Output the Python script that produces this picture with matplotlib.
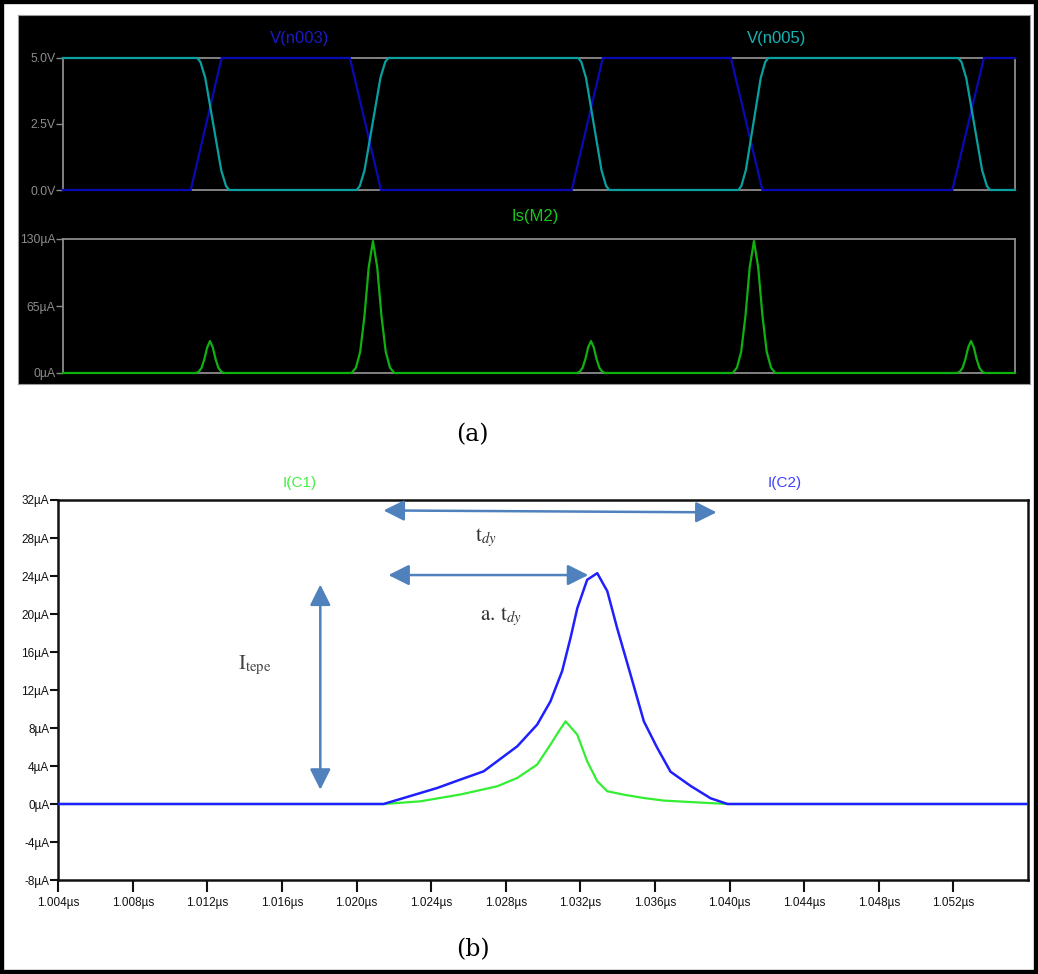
import numpy as np
import matplotlib
matplotlib.use("Agg")
import matplotlib.pyplot as plt
from matplotlib.patches import Rectangle, FancyArrowPatch

# ---------------- panel (a) data (time in ns) ----------------
v003_t = [0, 6.71, 8.33, 15.07, 16.70, 26.72, 28.35, 35.08, 36.73, 46.71, 48.37, 50]
v003_v = [0, 0, 5, 5, 0, 0, 5, 5, 0, 0, 5, 5]

v005_edge_start = [7.05, 15.42, 27.06, 35.47, 47.02]
v005_edge_end = [8.73, 17.09, 28.69, 37.04, 48.69]
v005_levels = [5, 0, 5, 0, 5, 0]
edge_profile_s = [0, 0.1, 0.25, 0.4, 0.5, 0.6, 0.75, 0.9, 1.0]
edge_profile_f = [0, 0.03, 0.15, 0.36, 0.5, 0.64, 0.85, 0.97, 1.0]

ism2_center = [7.72, 16.28, 27.73, 36.29, 47.69]
ism2_height = [31, 128, 31, 128, 31]
ism2_halfwidth = [0.74, 1.12, 0.74, 1.12, 0.74]
pulse_profile_s = [-1, -0.8, -0.6, -0.4, -0.2, 0, 0.2, 0.4, 0.6, 0.8, 1]
pulse_profile_f = [0, 0.04, 0.16, 0.43, 0.8, 1, 0.8, 0.43, 0.16, 0.04, 0]

v_ticks = [0, 2.5, 5]
v_tick_labels = ["0.0V", "2.5V", "5.0V"]
i_ticks = [0, 65, 130]
i_tick_labels = ["0µA", "65µA", "130µA"]

# ---------------- panel (b) data (time in µs, current in µA) ----------------
ic2_t = [1.004, 1.02144, 1.02252, 1.02431, 1.02556, 1.02681, 1.02861, 1.02968, 1.03039,
         1.03102, 1.03147, 1.03183, 1.03236, 1.03290, 1.03344, 1.03397, 1.03469, 1.03540,
         1.03612, 1.03683, 1.03791, 1.03898, 1.03989, 1.056]
ic2_i = [0, 0, 0.63, 1.68, 2.57, 3.44, 6.07, 8.36, 10.8, 14.0, 17.5, 20.6, 23.6, 24.3,
         22.4, 18.5, 13.6, 8.7, 5.9, 3.4, 1.9, 0.6, 0, 0]
ic1_t = [1.004, 1.02144, 1.02341, 1.02556, 1.02753, 1.02861, 1.02968, 1.03039, 1.03084,
         1.03120, 1.03183, 1.03236, 1.03290, 1.03344, 1.03433, 1.03540, 1.03647, 1.03844,
         1.03989, 1.056]
ic1_i = [0, 0, 0.28, 1.0, 1.86, 2.74, 4.15, 6.25, 7.65, 8.7, 7.3, 4.5, 2.4, 1.34, 0.98,
         0.63, 0.36, 0.15, 0, 0]

b_xticks = [1.004, 1.008, 1.012, 1.016, 1.020, 1.024, 1.028, 1.032, 1.036, 1.040, 1.044, 1.048, 1.052]
b_xtick_labels = ["1.004µs", "1.008µs", "1.012µs", "1.016µs", "1.020µs", "1.024µs", "1.028µs",
                  "1.032µs", "1.036µs", "1.040µs", "1.044µs", "1.048µs", "1.052µs"]
b_yticks = [-8, -4, 0, 4, 8, 12, 16, 20, 24, 28, 32]
b_ytick_labels = ["-8µA", "-4µA", "0µA", "4µA", "8µA", "12µA", "16µA", "20µA", "24µA", "28µA", "32µA"]

# annotation anchors (data coords of panel b)
arrow_tdy = ((1.02144, 30.9), (1.03930, 30.7))
arrow_atdy = ((1.02170, 24.1), (1.03242, 24.1))
arrow_itepe = ((1.01805, 23.1), (1.01805, 1.5))

# ---------------- build waveforms ----------------
c_t, c_v = [0.0], [v005_levels[0]]
for k, (ts, te) in enumerate(zip(v005_edge_start, v005_edge_end)):
    a, b = v005_levels[k], v005_levels[k + 1]
    for s, f in zip(edge_profile_s, edge_profile_f):
        c_t.append(ts + s * (te - ts))
        c_v.append(a + (b - a) * f)
c_t.append(50.0); c_v.append(v005_levels[-1])

p_t, p_i = [0.0], [0.0]
for c, h, w in zip(ism2_center, ism2_height, ism2_halfwidth):
    for s, f in zip(pulse_profile_s, pulse_profile_f):
        p_t.append(c + s * w)
        p_i.append(h * f)
p_t.append(50.0); p_i.append(0.0)

W, H = 1038, 974
fig = plt.figure(figsize=(W / 100, H / 100), dpi=100)
fig.patch.set_facecolor("white")
plt.rcParams["mathtext.fontset"] = "stix"

narrow = ["Liberation Sans", "DejaVu Sans"]

def fx(x):
    return x / W

def fy(y):
    return 1 - y / H

# black panel for (a): a background axes
bg = fig.add_axes([fx(18), fy(384), fx(1030) - fx(18), fy(15) - fy(384)], zorder=-5)
bg.set_facecolor("black")
bg.set_xticks([]); bg.set_yticks([])
for sp in bg.spines.values():
    sp.set_color("#9a9a9a")
    sp.set_linewidth(0.8)

# outer border
fig.patches.append(Rectangle((0, 0), 1, 1, transform=fig.transFigure, fill=False,
                             edgecolor="black", lw=6, zorder=10))

gray = "#8c8c8c"

def style_spice(ax):
    ax.set_facecolor("black")
    for sp in ax.spines.values():
        sp.set_color(gray)
        sp.set_linewidth(1.3)
    ax.tick_params(axis="y", colors=gray, length=5, width=1.0, pad=0.5, labelsize=8.8)
    ax.tick_params(axis="x", bottom=False, labelbottom=False)
    for lab in ax.get_yticklabels():
        lab.set_family(narrow)

# voltage axes
axv = fig.add_axes([fx(63), fy(190), fx(1015) - fx(63), fy(58) - fy(190)], zorder=2)
axv.plot(v003_t, v003_v, color="#0a0ab4", lw=1.6, zorder=3, clip_on=False)
axv.plot(c_t, c_v, color="#0aa0a0", lw=1.6, zorder=3, clip_on=False)
axv.set_xlim(0, 50)
axv.set_ylim(0, 5)
axv.set_yticks(v_ticks)
axv.set_yticklabels(v_tick_labels)
style_spice(axv)

# current axes
axi = fig.add_axes([fx(63), fy(373), fx(1015) - fx(63), fy(239) - fy(373)], zorder=2)
axi.plot(p_t, p_i, color="#10b010", lw=1.6, zorder=3, clip_on=False)
axi.set_xlim(0, 50)
axi.set_ylim(0, 130)
axi.set_yticks(i_ticks)
axi.set_yticklabels(i_tick_labels)
style_spice(axi)

fig.text(fx(300), fy(38), "V(n003)", color="#1a1ac8", fontsize=12, family=narrow,
         ha="center", va="center", zorder=5)
fig.text(fx(777), fy(38), "V(n005)", color="#14b4b4", fontsize=12, family=narrow,
         ha="center", va="center", zorder=5)
fig.text(fx(535), fy(217), "Is(M2)", color="#18c818", fontsize=12, family=narrow,
         ha="center", va="center", zorder=5)

fig.text(fx(472), fy(435), "(a)", fontsize=17, family="DejaVu Serif", ha="center", va="center")
fig.text(fx(473), fy(950), "(b)", fontsize=17, family="DejaVu Serif", ha="center", va="center")

# ---------------- panel (b) ----------------
axb = fig.add_axes([fx(58.3), fy(880), fx(1028) - fx(58.3), fy(500) - fy(880)])
axb.plot(ic1_t, ic1_i, color="#33ee33", lw=1.6, zorder=3)
axb.plot(ic2_t, ic2_i, color="#2020ff", lw=1.8, zorder=4)
axb.set_xlim(1.004, 1.056)
axb.set_ylim(-8, 32)
axb.set_xticks(b_xticks)
axb.set_xticklabels(b_xtick_labels)
axb.set_yticks(b_yticks)
axb.set_yticklabels(b_ytick_labels)
for sp in axb.spines.values():
    sp.set_color("#111111")
    sp.set_linewidth(1.8)
axb.tick_params(axis="y", length=6, width=1.5, pad=0.5, labelsize=8.5, colors="#111111")
axb.tick_params(axis="x", length=8.5, width=1.5, pad=4, labelsize=8.5, colors="#111111")
for lab in axb.get_xticklabels() + axb.get_yticklabels():
    lab.set_family(narrow)

fig.text(fx(300), fy(483), "I(C1)", color="#44ee44", fontsize=11, family=narrow,
         ha="center", va="center")
fig.text(fx(785), fy(483), "I(C2)", color="#4040ff", fontsize=11, family=narrow,
         ha="center", va="center")

arrow_color = "#4f81bd"
for (p0, p1) in (arrow_tdy, arrow_atdy, arrow_itepe):
    arr = FancyArrowPatch(p0, p1, arrowstyle="<|-|>,head_length=0.7,head_width=0.35",
                          mutation_scale=18, color=arrow_color, lw=1.8,
                          shrinkA=0, shrinkB=0, transform=axb.transData, clip_on=False,
                          zorder=5)
    axb.add_patch(arr)

fig.text(fx(486), fy(538), r"$\mathrm{t}_{dy}$", fontsize=15, color="#333333",
         ha="center", va="center")
fig.text(fx(501), fy(617), r"$\mathrm{a.\,t}_{dy}$", fontsize=15, color="#333333",
         ha="center", va="center")
fig.text(fx(255), fy(665), r"$\mathrm{I}_{\mathrm{tepe}}$", fontsize=15, color="#444444",
         ha="center", va="center")

fig.savefig("out.png", dpi=100, facecolor="white")
